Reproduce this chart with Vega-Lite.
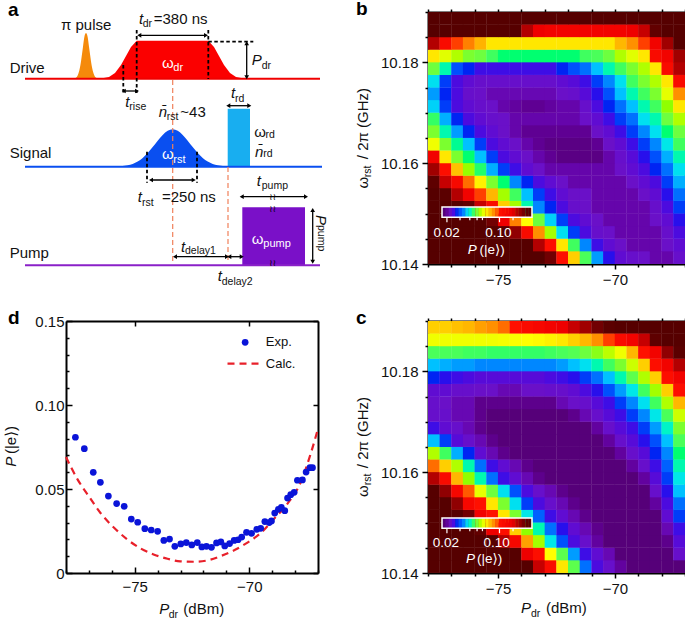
{"$schema":"https://vega.github.io/schema/vega-lite/v6.json","padding":{"left":4,"top":0,"right":0,"bottom":0},"autosize":{"type":"pad"},"background":"white","bounds":"flush","columns":2,"spacing":{"row":57,"column":110},"config":{"view":{"stroke":null},"text":{"font":"Liberation Sans, DejaVu Sans","align":"left","baseline":"alphabetic","fontSize":15,"color":"#111"},"axis":{"title":null,"grid":false,"domainColor":"#000","domainWidth":2,"tickColor":"#000","tickWidth":1.5,"labelFont":"Liberation Sans","labelFontSize":15,"labelColor":"#111","labelOverlap":false,"labelFlush":false}},
"datasets":{"barb":[{"x":-77.33,"y":10.1503,"p":0.0175},{"x":-77.19,"y":10.1503,"p":0.0184},{"x":-77.05,"y":10.1503,"p":0.0193},{"x":-76.9,"y":10.1503,"p":0.023},{"x":-76.76,"y":10.1503,"p":0.0262},{"x":-76.62,"y":10.1503,"p":0.0284},{"x":-76.47,"y":10.1503,"p":0.031},{"x":-76.33,"y":10.1503,"p":0.0352},{"x":-76.19,"y":10.1503,"p":0.0393},{"x":-76.05,"y":10.1503,"p":0.0444},{"x":-75.9,"y":10.1503,"p":0.0515},{"x":-75.76,"y":10.1503,"p":0.0596},{"x":-75.62,"y":10.1503,"p":0.0701},{"x":-75.47,"y":10.1503,"p":0.08},{"x":-75.33,"y":10.1503,"p":0.0893},{"x":-75.19,"y":10.1503,"p":0.1},{"x":-75.05,"y":10.1503,"p":0.114},{"x":-74.9,"y":10.1503,"p":0.128},{"x":-74.76,"y":10.1503,"p":0.14},{"x":-74.62,"y":10.1503,"p":0.153},{"x":-74.48,"y":10.1503,"p":0.166},{"x":-74.33,"y":10.1503,"p":0.177},{"x":-74.19,"y":10.1503,"p":0.198},{"x":-74.05,"y":10.1503,"p":0.216},{"x":-73.91,"y":10.1503,"p":0.237},{"x":-73.76,"y":10.1503,"p":0.257},{"x":-73.62,"y":10.1503,"p":0.274}],
"barc":[{"x":-77.33,"y":10.1499,"p":0.0175},{"x":-77.19,"y":10.1499,"p":0.0184},{"x":-77.05,"y":10.1499,"p":0.0193},{"x":-76.9,"y":10.1499,"p":0.023},{"x":-76.76,"y":10.1499,"p":0.0262},{"x":-76.62,"y":10.1499,"p":0.0284},{"x":-76.47,"y":10.1499,"p":0.031},{"x":-76.33,"y":10.1499,"p":0.0352},{"x":-76.19,"y":10.1499,"p":0.0393},{"x":-76.05,"y":10.1499,"p":0.0444},{"x":-75.9,"y":10.1499,"p":0.0515},{"x":-75.76,"y":10.1499,"p":0.0596},{"x":-75.62,"y":10.1499,"p":0.0701},{"x":-75.47,"y":10.1499,"p":0.08},{"x":-75.33,"y":10.1499,"p":0.0893},{"x":-75.19,"y":10.1499,"p":0.1},{"x":-75.05,"y":10.1499,"p":0.114},{"x":-74.9,"y":10.1499,"p":0.128},{"x":-74.76,"y":10.1499,"p":0.14},{"x":-74.62,"y":10.1499,"p":0.153},{"x":-74.48,"y":10.1499,"p":0.166},{"x":-74.33,"y":10.1499,"p":0.177},{"x":-74.19,"y":10.1499,"p":0.198},{"x":-74.05,"y":10.1499,"p":0.216},{"x":-73.91,"y":10.1499,"p":0.237},{"x":-73.76,"y":10.1499,"p":0.257},{"x":-73.62,"y":10.1499,"p":0.274}],
"b":[
{"x":-77.75,"y":10.1413,"p":0.283},{"x":-77.25,"y":10.1413,"p":0.283},{"x":-76.75,"y":10.1413,"p":0.283},{"x":-76.25,"y":10.1413,"p":0.283},{"x":-75.75,"y":10.1413,"p":0.283},{"x":-75.25,"y":10.1413,"p":0.283},{"x":-74.75,"y":10.1413,"p":0.283},{"x":-74.25,"y":10.1413,"p":0.283},{"x":-73.75,"y":10.1413,"p":0.283},{"x":-73.25,"y":10.1413,"p":0.283},{"x":-72.75,"y":10.1413,"p":0.24},{"x":-72.25,"y":10.1413,"p":0.13},{"x":-71.75,"y":10.1413,"p":0.085},{"x":-71.25,"y":10.1413,"p":0.046},{"x":-70.75,"y":10.1413,"p":0.032},{"x":-70.25,"y":10.1413,"p":0.025},{"x":-69.75,"y":10.1413,"p":0.021},{"x":-69.25,"y":10.1413,"p":0.02},{"x":-68.75,"y":10.1413,"p":0.0195},{"x":-68.25,"y":10.1413,"p":0.0188},{"x":-67.75,"y":10.1413,"p":0.0188},{"x":-67.25,"y":10.1413,"p":0.02},
{"x":-77.75,"y":10.1438,"p":0.283},{"x":-77.25,"y":10.1438,"p":0.283},{"x":-76.75,"y":10.1438,"p":0.283},{"x":-76.25,"y":10.1438,"p":0.283},{"x":-75.75,"y":10.1438,"p":0.283},{"x":-75.25,"y":10.1438,"p":0.283},{"x":-74.75,"y":10.1438,"p":0.283},{"x":-74.25,"y":10.1438,"p":0.283},{"x":-73.75,"y":10.1438,"p":0.283},{"x":-73.25,"y":10.1438,"p":0.2},{"x":-72.75,"y":10.1438,"p":0.13},{"x":-72.25,"y":10.1438,"p":0.08},{"x":-71.75,"y":10.1438,"p":0.045},{"x":-71.25,"y":10.1438,"p":0.031},{"x":-70.75,"y":10.1438,"p":0.024},{"x":-70.25,"y":10.1438,"p":0.021},{"x":-69.75,"y":10.1438,"p":0.0195},{"x":-69.25,"y":10.1438,"p":0.0188},{"x":-68.75,"y":10.1438,"p":0.0188},{"x":-68.25,"y":10.1438,"p":0.0188},{"x":-67.75,"y":10.1438,"p":0.0195},{"x":-67.25,"y":10.1438,"p":0.021},
{"x":-77.75,"y":10.1463,"p":0.283},{"x":-77.25,"y":10.1463,"p":0.283},{"x":-76.75,"y":10.1463,"p":0.283},{"x":-76.25,"y":10.1463,"p":0.283},{"x":-75.75,"y":10.1463,"p":0.283},{"x":-75.25,"y":10.1463,"p":0.283},{"x":-74.75,"y":10.1463,"p":0.283},{"x":-74.25,"y":10.1463,"p":0.22},{"x":-73.75,"y":10.1463,"p":0.14},{"x":-73.25,"y":10.1463,"p":0.1},{"x":-72.75,"y":10.1463,"p":0.058},{"x":-72.25,"y":10.1463,"p":0.036},{"x":-71.75,"y":10.1463,"p":0.027},{"x":-71.25,"y":10.1463,"p":0.023},{"x":-70.75,"y":10.1463,"p":0.02},{"x":-70.25,"y":10.1463,"p":0.0195},{"x":-69.75,"y":10.1463,"p":0.0188},{"x":-69.25,"y":10.1463,"p":0.0188},{"x":-68.75,"y":10.1463,"p":0.0188},{"x":-68.25,"y":10.1463,"p":0.0188},{"x":-67.75,"y":10.1463,"p":0.02},{"x":-67.25,"y":10.1463,"p":0.023},
{"x":-77.75,"y":10.1488,"p":0.283},{"x":-77.25,"y":10.1488,"p":0.283},{"x":-76.75,"y":10.1488,"p":0.283},{"x":-76.25,"y":10.1488,"p":0.283},{"x":-75.75,"y":10.1488,"p":0.283},{"x":-75.25,"y":10.1488,"p":0.24},{"x":-74.75,"y":10.1488,"p":0.17},{"x":-74.25,"y":10.1488,"p":0.105},{"x":-73.75,"y":10.1488,"p":0.075},{"x":-73.25,"y":10.1488,"p":0.05},{"x":-72.75,"y":10.1488,"p":0.035},{"x":-72.25,"y":10.1488,"p":0.027},{"x":-71.75,"y":10.1488,"p":0.023},{"x":-71.25,"y":10.1488,"p":0.021},{"x":-70.75,"y":10.1488,"p":0.0195},{"x":-70.25,"y":10.1488,"p":0.0188},{"x":-69.75,"y":10.1488,"p":0.0188},{"x":-69.25,"y":10.1488,"p":0.0188},{"x":-68.75,"y":10.1488,"p":0.0188},{"x":-68.25,"y":10.1488,"p":0.0195},{"x":-67.75,"y":10.1488,"p":0.021},{"x":-67.25,"y":10.1488,"p":0.025},
{"x":-77.75,"y":10.1513,"p":0.283},{"x":-77.25,"y":10.1513,"p":0.283},{"x":-76.75,"y":10.1513,"p":0.283},{"x":-76.25,"y":10.1513,"p":0.25},{"x":-75.75,"y":10.1513,"p":0.19},{"x":-75.25,"y":10.1513,"p":0.14},{"x":-74.75,"y":10.1513,"p":0.085},{"x":-74.25,"y":10.1513,"p":0.058},{"x":-73.75,"y":10.1513,"p":0.04},{"x":-73.25,"y":10.1513,"p":0.031},{"x":-72.75,"y":10.1513,"p":0.026},{"x":-72.25,"y":10.1513,"p":0.023},{"x":-71.75,"y":10.1513,"p":0.02},{"x":-71.25,"y":10.1513,"p":0.0195},{"x":-70.75,"y":10.1513,"p":0.0188},{"x":-70.25,"y":10.1513,"p":0.0188},{"x":-69.75,"y":10.1513,"p":0.0188},{"x":-69.25,"y":10.1513,"p":0.0188},{"x":-68.75,"y":10.1513,"p":0.0188},{"x":-68.25,"y":10.1513,"p":0.02},{"x":-67.75,"y":10.1513,"p":0.023},{"x":-67.25,"y":10.1513,"p":0.027},
{"x":-77.75,"y":10.1538,"p":0.283},{"x":-77.25,"y":10.1538,"p":0.27},{"x":-76.75,"y":10.1538,"p":0.2},{"x":-76.25,"y":10.1538,"p":0.16},{"x":-75.75,"y":10.1538,"p":0.12},{"x":-75.25,"y":10.1538,"p":0.09},{"x":-74.75,"y":10.1538,"p":0.058},{"x":-74.25,"y":10.1538,"p":0.045},{"x":-73.75,"y":10.1538,"p":0.034},{"x":-73.25,"y":10.1538,"p":0.027},{"x":-72.75,"y":10.1538,"p":0.024},{"x":-72.25,"y":10.1538,"p":0.021},{"x":-71.75,"y":10.1538,"p":0.0195},{"x":-71.25,"y":10.1538,"p":0.0195},{"x":-70.75,"y":10.1538,"p":0.0188},{"x":-70.25,"y":10.1538,"p":0.0188},{"x":-69.75,"y":10.1538,"p":0.0188},{"x":-69.25,"y":10.1538,"p":0.0188},{"x":-68.75,"y":10.1538,"p":0.0195},{"x":-68.25,"y":10.1538,"p":0.021},{"x":-67.75,"y":10.1538,"p":0.025},{"x":-67.25,"y":10.1538,"p":0.03},
{"x":-77.75,"y":10.1563,"p":0.26},{"x":-77.25,"y":10.1563,"p":0.19},{"x":-76.75,"y":10.1563,"p":0.145},{"x":-76.25,"y":10.1563,"p":0.11},{"x":-75.75,"y":10.1563,"p":0.078},{"x":-75.25,"y":10.1563,"p":0.052},{"x":-74.75,"y":10.1563,"p":0.042},{"x":-74.25,"y":10.1563,"p":0.031},{"x":-73.75,"y":10.1563,"p":0.026},{"x":-73.25,"y":10.1563,"p":0.023},{"x":-72.75,"y":10.1563,"p":0.021},{"x":-72.25,"y":10.1563,"p":0.0195},{"x":-71.75,"y":10.1563,"p":0.0188},{"x":-71.25,"y":10.1563,"p":0.0188},{"x":-70.75,"y":10.1563,"p":0.0188},{"x":-70.25,"y":10.1563,"p":0.0188},{"x":-69.75,"y":10.1563,"p":0.0188},{"x":-69.25,"y":10.1563,"p":0.0195},{"x":-68.75,"y":10.1563,"p":0.021},{"x":-68.25,"y":10.1563,"p":0.023},{"x":-67.75,"y":10.1563,"p":0.027},{"x":-67.25,"y":10.1563,"p":0.033},
{"x":-77.75,"y":10.1588,"p":0.21},{"x":-77.25,"y":10.1588,"p":0.13},{"x":-76.75,"y":10.1588,"p":0.088},{"x":-76.25,"y":10.1588,"p":0.056},{"x":-75.75,"y":10.1588,"p":0.043},{"x":-75.25,"y":10.1588,"p":0.033},{"x":-74.75,"y":10.1588,"p":0.027},{"x":-74.25,"y":10.1588,"p":0.024},{"x":-73.75,"y":10.1588,"p":0.021},{"x":-73.25,"y":10.1588,"p":0.0195},{"x":-72.75,"y":10.1588,"p":0.0188},{"x":-72.25,"y":10.1588,"p":0.0188},{"x":-71.75,"y":10.1588,"p":0.0188},{"x":-71.25,"y":10.1588,"p":0.0188},{"x":-70.75,"y":10.1588,"p":0.0188},{"x":-70.25,"y":10.1588,"p":0.0188},{"x":-69.75,"y":10.1588,"p":0.0195},{"x":-69.25,"y":10.1588,"p":0.021},{"x":-68.75,"y":10.1588,"p":0.023},{"x":-68.25,"y":10.1588,"p":0.026},{"x":-67.75,"y":10.1588,"p":0.03},{"x":-67.25,"y":10.1588,"p":0.036},
{"x":-77.75,"y":10.1613,"p":0.16},{"x":-77.25,"y":10.1613,"p":0.08},{"x":-76.75,"y":10.1613,"p":0.052},{"x":-76.25,"y":10.1613,"p":0.042},{"x":-75.75,"y":10.1613,"p":0.034},{"x":-75.25,"y":10.1613,"p":0.027},{"x":-74.75,"y":10.1613,"p":0.023},{"x":-74.25,"y":10.1613,"p":0.021},{"x":-73.75,"y":10.1613,"p":0.0195},{"x":-73.25,"y":10.1613,"p":0.0188},{"x":-72.75,"y":10.1613,"p":0.0182},{"x":-72.25,"y":10.1613,"p":0.0178},{"x":-71.75,"y":10.1613,"p":0.0178},{"x":-71.25,"y":10.1613,"p":0.0178},{"x":-70.75,"y":10.1613,"p":0.0178},{"x":-70.25,"y":10.1613,"p":0.0188},{"x":-69.75,"y":10.1613,"p":0.02},{"x":-69.25,"y":10.1613,"p":0.022},{"x":-68.75,"y":10.1613,"p":0.025},{"x":-68.25,"y":10.1613,"p":0.028},{"x":-67.75,"y":10.1613,"p":0.033},{"x":-67.25,"y":10.1613,"p":0.04},
{"x":-77.75,"y":10.1638,"p":0.072},{"x":-77.25,"y":10.1638,"p":0.052},{"x":-76.75,"y":10.1638,"p":0.041},{"x":-76.25,"y":10.1638,"p":0.034},{"x":-75.75,"y":10.1638,"p":0.027},{"x":-75.25,"y":10.1638,"p":0.023},{"x":-74.75,"y":10.1638,"p":0.021},{"x":-74.25,"y":10.1638,"p":0.0195},{"x":-73.75,"y":10.1638,"p":0.0188},{"x":-73.25,"y":10.1638,"p":0.0182},{"x":-72.75,"y":10.1638,"p":0.0178},{"x":-72.25,"y":10.1638,"p":0.0178},{"x":-71.75,"y":10.1638,"p":0.0178},{"x":-71.25,"y":10.1638,"p":0.0178},{"x":-70.75,"y":10.1638,"p":0.0182},{"x":-70.25,"y":10.1638,"p":0.0195},{"x":-69.75,"y":10.1638,"p":0.021},{"x":-69.25,"y":10.1638,"p":0.024},{"x":-68.75,"y":10.1638,"p":0.027},{"x":-68.25,"y":10.1638,"p":0.031},{"x":-67.75,"y":10.1638,"p":0.037},{"x":-67.25,"y":10.1638,"p":0.045},
{"x":-77.75,"y":10.1663,"p":0.052},{"x":-77.25,"y":10.1663,"p":0.04},{"x":-76.75,"y":10.1663,"p":0.032},{"x":-76.25,"y":10.1663,"p":0.026},{"x":-75.75,"y":10.1663,"p":0.023},{"x":-75.25,"y":10.1663,"p":0.021},{"x":-74.75,"y":10.1663,"p":0.0195},{"x":-74.25,"y":10.1663,"p":0.0188},{"x":-73.75,"y":10.1663,"p":0.0182},{"x":-73.25,"y":10.1663,"p":0.0182},{"x":-72.75,"y":10.1663,"p":0.0182},{"x":-72.25,"y":10.1663,"p":0.0182},{"x":-71.75,"y":10.1663,"p":0.0182},{"x":-71.25,"y":10.1663,"p":0.0182},{"x":-70.75,"y":10.1663,"p":0.0195},{"x":-70.25,"y":10.1663,"p":0.021},{"x":-69.75,"y":10.1663,"p":0.024},{"x":-69.25,"y":10.1663,"p":0.027},{"x":-68.75,"y":10.1663,"p":0.031},{"x":-68.25,"y":10.1663,"p":0.036},{"x":-67.75,"y":10.1663,"p":0.042},{"x":-67.25,"y":10.1663,"p":0.05},
{"x":-77.75,"y":10.1688,"p":0.044},{"x":-77.25,"y":10.1688,"p":0.033},{"x":-76.75,"y":10.1688,"p":0.026},{"x":-76.25,"y":10.1688,"p":0.023},{"x":-75.75,"y":10.1688,"p":0.021},{"x":-75.25,"y":10.1688,"p":0.02},{"x":-74.75,"y":10.1688,"p":0.0195},{"x":-74.25,"y":10.1688,"p":0.0188},{"x":-73.75,"y":10.1688,"p":0.0188},{"x":-73.25,"y":10.1688,"p":0.0188},{"x":-72.75,"y":10.1688,"p":0.0188},{"x":-72.25,"y":10.1688,"p":0.0188},{"x":-71.75,"y":10.1688,"p":0.0188},{"x":-71.25,"y":10.1688,"p":0.0195},{"x":-70.75,"y":10.1688,"p":0.021},{"x":-70.25,"y":10.1688,"p":0.024},{"x":-69.75,"y":10.1688,"p":0.027},{"x":-69.25,"y":10.1688,"p":0.03},{"x":-68.75,"y":10.1688,"p":0.036},{"x":-68.25,"y":10.1688,"p":0.04},{"x":-67.75,"y":10.1688,"p":0.05},{"x":-67.25,"y":10.1688,"p":0.06},
{"x":-77.75,"y":10.1713,"p":0.035},{"x":-77.25,"y":10.1713,"p":0.027},{"x":-76.75,"y":10.1713,"p":0.023},{"x":-76.25,"y":10.1713,"p":0.021},{"x":-75.75,"y":10.1713,"p":0.02},{"x":-75.25,"y":10.1713,"p":0.0195},{"x":-74.75,"y":10.1713,"p":0.0188},{"x":-74.25,"y":10.1713,"p":0.0185},{"x":-73.75,"y":10.1713,"p":0.0182},{"x":-73.25,"y":10.1713,"p":0.0182},{"x":-72.75,"y":10.1713,"p":0.0185},{"x":-72.25,"y":10.1713,"p":0.0188},{"x":-71.75,"y":10.1713,"p":0.0188},{"x":-71.25,"y":10.1713,"p":0.02},{"x":-70.75,"y":10.1713,"p":0.023},{"x":-70.25,"y":10.1713,"p":0.026},{"x":-69.75,"y":10.1713,"p":0.03},{"x":-69.25,"y":10.1713,"p":0.034},{"x":-68.75,"y":10.1713,"p":0.04},{"x":-68.25,"y":10.1713,"p":0.045},{"x":-67.75,"y":10.1713,"p":0.055},{"x":-67.25,"y":10.1713,"p":0.08},
{"x":-77.75,"y":10.1738,"p":0.032},{"x":-77.25,"y":10.1738,"p":0.026},{"x":-76.75,"y":10.1738,"p":0.023},{"x":-76.25,"y":10.1738,"p":0.02},{"x":-75.75,"y":10.1738,"p":0.0195},{"x":-75.25,"y":10.1738,"p":0.019},{"x":-74.75,"y":10.1738,"p":0.019},{"x":-74.25,"y":10.1738,"p":0.019},{"x":-73.75,"y":10.1738,"p":0.019},{"x":-73.25,"y":10.1738,"p":0.019},{"x":-72.75,"y":10.1738,"p":0.019},{"x":-72.25,"y":10.1738,"p":0.0195},{"x":-71.75,"y":10.1738,"p":0.02},{"x":-71.25,"y":10.1738,"p":0.022},{"x":-70.75,"y":10.1738,"p":0.025},{"x":-70.25,"y":10.1738,"p":0.028},{"x":-69.75,"y":10.1738,"p":0.034},{"x":-69.25,"y":10.1738,"p":0.04},{"x":-68.75,"y":10.1738,"p":0.045},{"x":-68.25,"y":10.1738,"p":0.052},{"x":-67.75,"y":10.1738,"p":0.07},{"x":-67.25,"y":10.1738,"p":0.1},
{"x":-77.75,"y":10.1763,"p":0.036},{"x":-77.25,"y":10.1763,"p":0.027},{"x":-76.75,"y":10.1763,"p":0.023},{"x":-76.25,"y":10.1763,"p":0.021},{"x":-75.75,"y":10.1763,"p":0.02},{"x":-75.25,"y":10.1763,"p":0.02},{"x":-74.75,"y":10.1763,"p":0.02},{"x":-74.25,"y":10.1763,"p":0.02},{"x":-73.75,"y":10.1763,"p":0.02},{"x":-73.25,"y":10.1763,"p":0.02},{"x":-72.75,"y":10.1763,"p":0.02},{"x":-72.25,"y":10.1763,"p":0.021},{"x":-71.75,"y":10.1763,"p":0.022},{"x":-71.25,"y":10.1763,"p":0.024},{"x":-70.75,"y":10.1763,"p":0.027},{"x":-70.25,"y":10.1763,"p":0.031},{"x":-69.75,"y":10.1763,"p":0.036},{"x":-69.25,"y":10.1763,"p":0.045},{"x":-68.75,"y":10.1763,"p":0.052},{"x":-68.25,"y":10.1763,"p":0.06},{"x":-67.75,"y":10.1763,"p":0.08},{"x":-67.25,"y":10.1763,"p":0.14},
{"x":-77.75,"y":10.1788,"p":0.05},{"x":-77.25,"y":10.1788,"p":0.04},{"x":-76.75,"y":10.1788,"p":0.028},{"x":-76.25,"y":10.1788,"p":0.026},{"x":-75.75,"y":10.1788,"p":0.024},{"x":-75.25,"y":10.1788,"p":0.024},{"x":-74.75,"y":10.1788,"p":0.024},{"x":-74.25,"y":10.1788,"p":0.024},{"x":-73.75,"y":10.1788,"p":0.024},{"x":-73.25,"y":10.1788,"p":0.024},{"x":-72.75,"y":10.1788,"p":0.024},{"x":-72.25,"y":10.1788,"p":0.026},{"x":-71.75,"y":10.1788,"p":0.028},{"x":-71.25,"y":10.1788,"p":0.03},{"x":-70.75,"y":10.1788,"p":0.034},{"x":-70.25,"y":10.1788,"p":0.04},{"x":-69.75,"y":10.1788,"p":0.045},{"x":-69.25,"y":10.1788,"p":0.052},{"x":-68.75,"y":10.1788,"p":0.06},{"x":-68.25,"y":10.1788,"p":0.08},{"x":-67.75,"y":10.1788,"p":0.14},{"x":-67.25,"y":10.1788,"p":0.2},
{"x":-77.75,"y":10.1813,"p":0.08},{"x":-77.25,"y":10.1813,"p":0.069},{"x":-76.75,"y":10.1813,"p":0.06},{"x":-76.25,"y":10.1813,"p":0.052},{"x":-75.75,"y":10.1813,"p":0.05},{"x":-75.25,"y":10.1813,"p":0.045},{"x":-74.75,"y":10.1813,"p":0.042},{"x":-74.25,"y":10.1813,"p":0.042},{"x":-73.75,"y":10.1813,"p":0.042},{"x":-73.25,"y":10.1813,"p":0.042},{"x":-72.75,"y":10.1813,"p":0.042},{"x":-72.25,"y":10.1813,"p":0.042},{"x":-71.75,"y":10.1813,"p":0.042},{"x":-71.25,"y":10.1813,"p":0.045},{"x":-70.75,"y":10.1813,"p":0.046},{"x":-70.25,"y":10.1813,"p":0.05},{"x":-69.75,"y":10.1813,"p":0.06},{"x":-69.25,"y":10.1813,"p":0.069},{"x":-68.75,"y":10.1813,"p":0.08},{"x":-68.25,"y":10.1813,"p":0.14},{"x":-67.75,"y":10.1813,"p":0.16},{"x":-67.25,"y":10.1813,"p":0.21},
{"x":-77.75,"y":10.1838,"p":0.2},{"x":-77.25,"y":10.1838,"p":0.14},{"x":-76.75,"y":10.1838,"p":0.12},{"x":-76.25,"y":10.1838,"p":0.105},{"x":-75.75,"y":10.1838,"p":0.091},{"x":-75.25,"y":10.1838,"p":0.08},{"x":-74.75,"y":10.1838,"p":0.08},{"x":-74.25,"y":10.1838,"p":0.08},{"x":-73.75,"y":10.1838,"p":0.08},{"x":-73.25,"y":10.1838,"p":0.08},{"x":-72.75,"y":10.1838,"p":0.08},{"x":-72.25,"y":10.1838,"p":0.08},{"x":-71.75,"y":10.1838,"p":0.08},{"x":-71.25,"y":10.1838,"p":0.08},{"x":-70.75,"y":10.1838,"p":0.08},{"x":-70.25,"y":10.1838,"p":0.08},{"x":-69.75,"y":10.1838,"p":0.09},{"x":-69.25,"y":10.1838,"p":0.1},{"x":-68.75,"y":10.1838,"p":0.12},{"x":-68.25,"y":10.1838,"p":0.16},{"x":-67.75,"y":10.1838,"p":0.21},{"x":-67.25,"y":10.1838,"p":0.283},
{"x":-77.75,"y":10.1863,"p":0.283},{"x":-77.25,"y":10.1863,"p":0.283},{"x":-76.75,"y":10.1863,"p":0.283},{"x":-76.25,"y":10.1863,"p":0.283},{"x":-75.75,"y":10.1863,"p":0.283},{"x":-75.25,"y":10.1863,"p":0.283},{"x":-74.75,"y":10.1863,"p":0.283},{"x":-74.25,"y":10.1863,"p":0.283},{"x":-73.75,"y":10.1863,"p":0.2},{"x":-73.25,"y":10.1863,"p":0.17},{"x":-72.75,"y":10.1863,"p":0.16},{"x":-72.25,"y":10.1863,"p":0.16},{"x":-71.75,"y":10.1863,"p":0.16},{"x":-71.25,"y":10.1863,"p":0.16},{"x":-70.75,"y":10.1863,"p":0.16},{"x":-70.25,"y":10.1863,"p":0.16},{"x":-69.75,"y":10.1863,"p":0.16},{"x":-69.25,"y":10.1863,"p":0.17},{"x":-68.75,"y":10.1863,"p":0.19},{"x":-68.25,"y":10.1863,"p":0.25},{"x":-67.75,"y":10.1863,"p":0.283},{"x":-67.25,"y":10.1863,"p":0.283},
{"x":-77.75,"y":10.1888,"p":0.283},{"x":-77.25,"y":10.1888,"p":0.283},{"x":-76.75,"y":10.1888,"p":0.283},{"x":-76.25,"y":10.1888,"p":0.283},{"x":-75.75,"y":10.1888,"p":0.283},{"x":-75.25,"y":10.1888,"p":0.283},{"x":-74.75,"y":10.1888,"p":0.283},{"x":-74.25,"y":10.1888,"p":0.283},{"x":-73.75,"y":10.1888,"p":0.283},{"x":-73.25,"y":10.1888,"p":0.283},{"x":-72.75,"y":10.1888,"p":0.283},{"x":-72.25,"y":10.1888,"p":0.283},{"x":-71.75,"y":10.1888,"p":0.283},{"x":-71.25,"y":10.1888,"p":0.283},{"x":-70.75,"y":10.1888,"p":0.283},{"x":-70.25,"y":10.1888,"p":0.283},{"x":-69.75,"y":10.1888,"p":0.283},{"x":-69.25,"y":10.1888,"p":0.283},{"x":-68.75,"y":10.1888,"p":0.283},{"x":-68.25,"y":10.1888,"p":0.283},{"x":-67.75,"y":10.1888,"p":0.283},{"x":-67.25,"y":10.1888,"p":0.283}],
"c":[
{"x":-77.75,"y":10.1413,"p":0.283},{"x":-77.25,"y":10.1413,"p":0.283},{"x":-76.75,"y":10.1413,"p":0.283},{"x":-76.25,"y":10.1413,"p":0.283},{"x":-75.75,"y":10.1413,"p":0.283},{"x":-75.25,"y":10.1413,"p":0.283},{"x":-74.75,"y":10.1413,"p":0.283},{"x":-74.25,"y":10.1413,"p":0.283},{"x":-73.75,"y":10.1413,"p":0.283},{"x":-73.25,"y":10.1413,"p":0.19},{"x":-72.75,"y":10.1413,"p":0.14},{"x":-72.25,"y":10.1413,"p":0.08},{"x":-71.75,"y":10.1413,"p":0.048},{"x":-71.25,"y":10.1413,"p":0.03},{"x":-70.75,"y":10.1413,"p":0.023},{"x":-70.25,"y":10.1413,"p":0.02},{"x":-69.75,"y":10.1413,"p":0.0185},{"x":-69.25,"y":10.1413,"p":0.0175},{"x":-68.75,"y":10.1413,"p":0.0175},{"x":-68.25,"y":10.1413,"p":0.0175},{"x":-67.75,"y":10.1413,"p":0.0175},{"x":-67.25,"y":10.1413,"p":0.0175},
{"x":-77.75,"y":10.1438,"p":0.283},{"x":-77.25,"y":10.1438,"p":0.283},{"x":-76.75,"y":10.1438,"p":0.283},{"x":-76.25,"y":10.1438,"p":0.283},{"x":-75.75,"y":10.1438,"p":0.283},{"x":-75.25,"y":10.1438,"p":0.283},{"x":-74.75,"y":10.1438,"p":0.283},{"x":-74.25,"y":10.1438,"p":0.283},{"x":-73.75,"y":10.1438,"p":0.17},{"x":-73.25,"y":10.1438,"p":0.13},{"x":-72.75,"y":10.1438,"p":0.075},{"x":-72.25,"y":10.1438,"p":0.048},{"x":-71.75,"y":10.1438,"p":0.032},{"x":-71.25,"y":10.1438,"p":0.024},{"x":-70.75,"y":10.1438,"p":0.021},{"x":-70.25,"y":10.1438,"p":0.019},{"x":-69.75,"y":10.1438,"p":0.0175},{"x":-69.25,"y":10.1438,"p":0.0175},{"x":-68.75,"y":10.1438,"p":0.0175},{"x":-68.25,"y":10.1438,"p":0.0175},{"x":-67.75,"y":10.1438,"p":0.0175},{"x":-67.25,"y":10.1438,"p":0.02},
{"x":-77.75,"y":10.1463,"p":0.283},{"x":-77.25,"y":10.1463,"p":0.283},{"x":-76.75,"y":10.1463,"p":0.283},{"x":-76.25,"y":10.1463,"p":0.283},{"x":-75.75,"y":10.1463,"p":0.283},{"x":-75.25,"y":10.1463,"p":0.283},{"x":-74.75,"y":10.1463,"p":0.2},{"x":-74.25,"y":10.1463,"p":0.15},{"x":-73.75,"y":10.1463,"p":0.095},{"x":-73.25,"y":10.1463,"p":0.058},{"x":-72.75,"y":10.1463,"p":0.037},{"x":-72.25,"y":10.1463,"p":0.028},{"x":-71.75,"y":10.1463,"p":0.023},{"x":-71.25,"y":10.1463,"p":0.02},{"x":-70.75,"y":10.1463,"p":0.0185},{"x":-70.25,"y":10.1463,"p":0.0175},{"x":-69.75,"y":10.1463,"p":0.0175},{"x":-69.25,"y":10.1463,"p":0.0175},{"x":-68.75,"y":10.1463,"p":0.0175},{"x":-68.25,"y":10.1463,"p":0.0175},{"x":-67.75,"y":10.1463,"p":0.018},{"x":-67.25,"y":10.1463,"p":0.022},
{"x":-77.75,"y":10.1488,"p":0.283},{"x":-77.25,"y":10.1488,"p":0.283},{"x":-76.75,"y":10.1488,"p":0.283},{"x":-76.25,"y":10.1488,"p":0.283},{"x":-75.75,"y":10.1488,"p":0.25},{"x":-75.25,"y":10.1488,"p":0.17},{"x":-74.75,"y":10.1488,"p":0.13},{"x":-74.25,"y":10.1488,"p":0.085},{"x":-73.75,"y":10.1488,"p":0.055},{"x":-73.25,"y":10.1488,"p":0.04},{"x":-72.75,"y":10.1488,"p":0.03},{"x":-72.25,"y":10.1488,"p":0.025},{"x":-71.75,"y":10.1488,"p":0.021},{"x":-71.25,"y":10.1488,"p":0.019},{"x":-70.75,"y":10.1488,"p":0.018},{"x":-70.25,"y":10.1488,"p":0.0175},{"x":-69.75,"y":10.1488,"p":0.0175},{"x":-69.25,"y":10.1488,"p":0.0175},{"x":-68.75,"y":10.1488,"p":0.0175},{"x":-68.25,"y":10.1488,"p":0.0175},{"x":-67.75,"y":10.1488,"p":0.019},{"x":-67.25,"y":10.1488,"p":0.024},
{"x":-77.75,"y":10.1513,"p":0.283},{"x":-77.25,"y":10.1513,"p":0.283},{"x":-76.75,"y":10.1513,"p":0.283},{"x":-76.25,"y":10.1513,"p":0.24},{"x":-75.75,"y":10.1513,"p":0.16},{"x":-75.25,"y":10.1513,"p":0.125},{"x":-74.75,"y":10.1513,"p":0.08},{"x":-74.25,"y":10.1513,"p":0.052},{"x":-73.75,"y":10.1513,"p":0.037},{"x":-73.25,"y":10.1513,"p":0.029},{"x":-72.75,"y":10.1513,"p":0.024},{"x":-72.25,"y":10.1513,"p":0.021},{"x":-71.75,"y":10.1513,"p":0.019},{"x":-71.25,"y":10.1513,"p":0.018},{"x":-70.75,"y":10.1513,"p":0.0175},{"x":-70.25,"y":10.1513,"p":0.0175},{"x":-69.75,"y":10.1513,"p":0.0175},{"x":-69.25,"y":10.1513,"p":0.0175},{"x":-68.75,"y":10.1513,"p":0.0175},{"x":-68.25,"y":10.1513,"p":0.0175},{"x":-67.75,"y":10.1513,"p":0.021},{"x":-67.25,"y":10.1513,"p":0.027},
{"x":-77.75,"y":10.1538,"p":0.283},{"x":-77.25,"y":10.1538,"p":0.283},{"x":-76.75,"y":10.1538,"p":0.22},{"x":-76.25,"y":10.1538,"p":0.15},{"x":-75.75,"y":10.1538,"p":0.125},{"x":-75.25,"y":10.1538,"p":0.08},{"x":-74.75,"y":10.1538,"p":0.052},{"x":-74.25,"y":10.1538,"p":0.036},{"x":-73.75,"y":10.1538,"p":0.027},{"x":-73.25,"y":10.1538,"p":0.023},{"x":-72.75,"y":10.1538,"p":0.02},{"x":-72.25,"y":10.1538,"p":0.019},{"x":-71.75,"y":10.1538,"p":0.018},{"x":-71.25,"y":10.1538,"p":0.0175},{"x":-70.75,"y":10.1538,"p":0.0175},{"x":-70.25,"y":10.1538,"p":0.0175},{"x":-69.75,"y":10.1538,"p":0.0175},{"x":-69.25,"y":10.1538,"p":0.0175},{"x":-68.75,"y":10.1538,"p":0.0175},{"x":-68.25,"y":10.1538,"p":0.0185},{"x":-67.75,"y":10.1538,"p":0.023},{"x":-67.25,"y":10.1538,"p":0.03},
{"x":-77.75,"y":10.1563,"p":0.283},{"x":-77.25,"y":10.1563,"p":0.22},{"x":-76.75,"y":10.1563,"p":0.15},{"x":-76.25,"y":10.1563,"p":0.115},{"x":-75.75,"y":10.1563,"p":0.07},{"x":-75.25,"y":10.1563,"p":0.05},{"x":-74.75,"y":10.1563,"p":0.036},{"x":-74.25,"y":10.1563,"p":0.028},{"x":-73.75,"y":10.1563,"p":0.023},{"x":-73.25,"y":10.1563,"p":0.02},{"x":-72.75,"y":10.1563,"p":0.019},{"x":-72.25,"y":10.1563,"p":0.018},{"x":-71.75,"y":10.1563,"p":0.0175},{"x":-71.25,"y":10.1563,"p":0.0175},{"x":-70.75,"y":10.1563,"p":0.0175},{"x":-70.25,"y":10.1563,"p":0.0175},{"x":-69.75,"y":10.1563,"p":0.0175},{"x":-69.25,"y":10.1563,"p":0.0175},{"x":-68.75,"y":10.1563,"p":0.0175},{"x":-68.25,"y":10.1563,"p":0.02},{"x":-67.75,"y":10.1563,"p":0.025},{"x":-67.25,"y":10.1563,"p":0.034},
{"x":-77.75,"y":10.1588,"p":0.2},{"x":-77.25,"y":10.1588,"p":0.14},{"x":-76.75,"y":10.1588,"p":0.09},{"x":-76.25,"y":10.1588,"p":0.055},{"x":-75.75,"y":10.1588,"p":0.04},{"x":-75.25,"y":10.1588,"p":0.03},{"x":-74.75,"y":10.1588,"p":0.024},{"x":-74.25,"y":10.1588,"p":0.021},{"x":-73.75,"y":10.1588,"p":0.019},{"x":-73.25,"y":10.1588,"p":0.018},{"x":-72.75,"y":10.1588,"p":0.0175},{"x":-72.25,"y":10.1588,"p":0.0175},{"x":-71.75,"y":10.1588,"p":0.0175},{"x":-71.25,"y":10.1588,"p":0.0175},{"x":-70.75,"y":10.1588,"p":0.0175},{"x":-70.25,"y":10.1588,"p":0.0175},{"x":-69.75,"y":10.1588,"p":0.0175},{"x":-69.25,"y":10.1588,"p":0.0175},{"x":-68.75,"y":10.1588,"p":0.0185},{"x":-68.25,"y":10.1588,"p":0.022},{"x":-67.75,"y":10.1588,"p":0.027},{"x":-67.25,"y":10.1588,"p":0.037},
{"x":-77.75,"y":10.1613,"p":0.11},{"x":-77.25,"y":10.1613,"p":0.085},{"x":-76.75,"y":10.1613,"p":0.06},{"x":-76.25,"y":10.1613,"p":0.04},{"x":-75.75,"y":10.1613,"p":0.03},{"x":-75.25,"y":10.1613,"p":0.024},{"x":-74.75,"y":10.1613,"p":0.021},{"x":-74.25,"y":10.1613,"p":0.019},{"x":-73.75,"y":10.1613,"p":0.018},{"x":-73.25,"y":10.1613,"p":0.0175},{"x":-72.75,"y":10.1613,"p":0.0175},{"x":-72.25,"y":10.1613,"p":0.0175},{"x":-71.75,"y":10.1613,"p":0.0175},{"x":-71.25,"y":10.1613,"p":0.0175},{"x":-70.75,"y":10.1613,"p":0.0175},{"x":-70.25,"y":10.1613,"p":0.0175},{"x":-69.75,"y":10.1613,"p":0.0175},{"x":-69.25,"y":10.1613,"p":0.0185},{"x":-68.75,"y":10.1613,"p":0.02},{"x":-68.25,"y":10.1613,"p":0.024},{"x":-67.75,"y":10.1613,"p":0.029},{"x":-67.25,"y":10.1613,"p":0.04},
{"x":-77.75,"y":10.1638,"p":0.06},{"x":-77.25,"y":10.1638,"p":0.045},{"x":-76.75,"y":10.1638,"p":0.033},{"x":-76.25,"y":10.1638,"p":0.026},{"x":-75.75,"y":10.1638,"p":0.021},{"x":-75.25,"y":10.1638,"p":0.019},{"x":-74.75,"y":10.1638,"p":0.018},{"x":-74.25,"y":10.1638,"p":0.0175},{"x":-73.75,"y":10.1638,"p":0.0175},{"x":-73.25,"y":10.1638,"p":0.0175},{"x":-72.75,"y":10.1638,"p":0.0175},{"x":-72.25,"y":10.1638,"p":0.0175},{"x":-71.75,"y":10.1638,"p":0.0175},{"x":-71.25,"y":10.1638,"p":0.0175},{"x":-70.75,"y":10.1638,"p":0.0175},{"x":-70.25,"y":10.1638,"p":0.0175},{"x":-69.75,"y":10.1638,"p":0.0185},{"x":-69.25,"y":10.1638,"p":0.02},{"x":-68.75,"y":10.1638,"p":0.022},{"x":-68.25,"y":10.1638,"p":0.026},{"x":-67.75,"y":10.1638,"p":0.031},{"x":-67.25,"y":10.1638,"p":0.042},
{"x":-77.75,"y":10.1663,"p":0.034},{"x":-77.25,"y":10.1663,"p":0.027},{"x":-76.75,"y":10.1663,"p":0.022},{"x":-76.25,"y":10.1663,"p":0.02},{"x":-75.75,"y":10.1663,"p":0.019},{"x":-75.25,"y":10.1663,"p":0.018},{"x":-74.75,"y":10.1663,"p":0.0175},{"x":-74.25,"y":10.1663,"p":0.0175},{"x":-73.75,"y":10.1663,"p":0.0175},{"x":-73.25,"y":10.1663,"p":0.0175},{"x":-72.75,"y":10.1663,"p":0.0175},{"x":-72.25,"y":10.1663,"p":0.0175},{"x":-71.75,"y":10.1663,"p":0.0175},{"x":-71.25,"y":10.1663,"p":0.0175},{"x":-70.75,"y":10.1663,"p":0.0175},{"x":-70.25,"y":10.1663,"p":0.0185},{"x":-69.75,"y":10.1663,"p":0.02},{"x":-69.25,"y":10.1663,"p":0.022},{"x":-68.75,"y":10.1663,"p":0.025},{"x":-68.25,"y":10.1663,"p":0.028},{"x":-67.75,"y":10.1663,"p":0.034},{"x":-67.25,"y":10.1663,"p":0.046},
{"x":-77.75,"y":10.1688,"p":0.024},{"x":-77.25,"y":10.1688,"p":0.021},{"x":-76.75,"y":10.1688,"p":0.02},{"x":-76.25,"y":10.1688,"p":0.019},{"x":-75.75,"y":10.1688,"p":0.018},{"x":-75.25,"y":10.1688,"p":0.0175},{"x":-74.75,"y":10.1688,"p":0.0175},{"x":-74.25,"y":10.1688,"p":0.0175},{"x":-73.75,"y":10.1688,"p":0.0175},{"x":-73.25,"y":10.1688,"p":0.0175},{"x":-72.75,"y":10.1688,"p":0.0175},{"x":-72.25,"y":10.1688,"p":0.0175},{"x":-71.75,"y":10.1688,"p":0.0175},{"x":-71.25,"y":10.1688,"p":0.0175},{"x":-70.75,"y":10.1688,"p":0.0185},{"x":-70.25,"y":10.1688,"p":0.02},{"x":-69.75,"y":10.1688,"p":0.022},{"x":-69.25,"y":10.1688,"p":0.024},{"x":-68.75,"y":10.1688,"p":0.027},{"x":-68.25,"y":10.1688,"p":0.032},{"x":-67.75,"y":10.1688,"p":0.039},{"x":-67.25,"y":10.1688,"p":0.052},
{"x":-77.75,"y":10.1713,"p":0.02},{"x":-77.25,"y":10.1713,"p":0.02},{"x":-76.75,"y":10.1713,"p":0.019},{"x":-76.25,"y":10.1713,"p":0.019},{"x":-75.75,"y":10.1713,"p":0.018},{"x":-75.25,"y":10.1713,"p":0.0175},{"x":-74.75,"y":10.1713,"p":0.0175},{"x":-74.25,"y":10.1713,"p":0.0175},{"x":-73.75,"y":10.1713,"p":0.0175},{"x":-73.25,"y":10.1713,"p":0.0175},{"x":-72.75,"y":10.1713,"p":0.0175},{"x":-72.25,"y":10.1713,"p":0.0175},{"x":-71.75,"y":10.1713,"p":0.018},{"x":-71.25,"y":10.1713,"p":0.019},{"x":-70.75,"y":10.1713,"p":0.02},{"x":-70.25,"y":10.1713,"p":0.022},{"x":-69.75,"y":10.1713,"p":0.024},{"x":-69.25,"y":10.1713,"p":0.027},{"x":-68.75,"y":10.1713,"p":0.031},{"x":-68.25,"y":10.1713,"p":0.037},{"x":-67.75,"y":10.1713,"p":0.046},{"x":-67.25,"y":10.1713,"p":0.065},
{"x":-77.75,"y":10.1738,"p":0.02},{"x":-77.25,"y":10.1738,"p":0.0195},{"x":-76.75,"y":10.1738,"p":0.019},{"x":-76.25,"y":10.1738,"p":0.019},{"x":-75.75,"y":10.1738,"p":0.018},{"x":-75.25,"y":10.1738,"p":0.018},{"x":-74.75,"y":10.1738,"p":0.018},{"x":-74.25,"y":10.1738,"p":0.018},{"x":-73.75,"y":10.1738,"p":0.018},{"x":-73.25,"y":10.1738,"p":0.018},{"x":-72.75,"y":10.1738,"p":0.018},{"x":-72.25,"y":10.1738,"p":0.019},{"x":-71.75,"y":10.1738,"p":0.0195},{"x":-71.25,"y":10.1738,"p":0.02},{"x":-70.75,"y":10.1738,"p":0.022},{"x":-70.25,"y":10.1738,"p":0.024},{"x":-69.75,"y":10.1738,"p":0.027},{"x":-69.25,"y":10.1738,"p":0.031},{"x":-68.75,"y":10.1738,"p":0.036},{"x":-68.25,"y":10.1738,"p":0.045},{"x":-67.75,"y":10.1738,"p":0.06},{"x":-67.25,"y":10.1738,"p":0.09},
{"x":-77.75,"y":10.1763,"p":0.021},{"x":-77.25,"y":10.1763,"p":0.021},{"x":-76.75,"y":10.1763,"p":0.02},{"x":-76.25,"y":10.1763,"p":0.02},{"x":-75.75,"y":10.1763,"p":0.0195},{"x":-75.25,"y":10.1763,"p":0.0195},{"x":-74.75,"y":10.1763,"p":0.019},{"x":-74.25,"y":10.1763,"p":0.019},{"x":-73.75,"y":10.1763,"p":0.0195},{"x":-73.25,"y":10.1763,"p":0.0195},{"x":-72.75,"y":10.1763,"p":0.02},{"x":-72.25,"y":10.1763,"p":0.02},{"x":-71.75,"y":10.1763,"p":0.021},{"x":-71.25,"y":10.1763,"p":0.023},{"x":-70.75,"y":10.1763,"p":0.025},{"x":-70.25,"y":10.1763,"p":0.028},{"x":-69.75,"y":10.1763,"p":0.032},{"x":-69.25,"y":10.1763,"p":0.037},{"x":-68.75,"y":10.1763,"p":0.045},{"x":-68.25,"y":10.1763,"p":0.058},{"x":-67.75,"y":10.1763,"p":0.085},{"x":-67.25,"y":10.1763,"p":0.13},
{"x":-77.75,"y":10.1788,"p":0.026},{"x":-77.25,"y":10.1788,"p":0.025},{"x":-76.75,"y":10.1788,"p":0.024},{"x":-76.25,"y":10.1788,"p":0.023},{"x":-75.75,"y":10.1788,"p":0.022},{"x":-75.25,"y":10.1788,"p":0.022},{"x":-74.75,"y":10.1788,"p":0.022},{"x":-74.25,"y":10.1788,"p":0.022},{"x":-73.75,"y":10.1788,"p":0.022},{"x":-73.25,"y":10.1788,"p":0.022},{"x":-72.75,"y":10.1788,"p":0.023},{"x":-72.25,"y":10.1788,"p":0.024},{"x":-71.75,"y":10.1788,"p":0.025},{"x":-71.25,"y":10.1788,"p":0.027},{"x":-70.75,"y":10.1788,"p":0.03},{"x":-70.25,"y":10.1788,"p":0.034},{"x":-69.75,"y":10.1788,"p":0.04},{"x":-69.25,"y":10.1788,"p":0.048},{"x":-68.75,"y":10.1788,"p":0.06},{"x":-68.25,"y":10.1788,"p":0.085},{"x":-67.75,"y":10.1788,"p":0.13},{"x":-67.25,"y":10.1788,"p":0.16},
{"x":-77.75,"y":10.1813,"p":0.034},{"x":-77.25,"y":10.1813,"p":0.033},{"x":-76.75,"y":10.1813,"p":0.032},{"x":-76.25,"y":10.1813,"p":0.032},{"x":-75.75,"y":10.1813,"p":0.031},{"x":-75.25,"y":10.1813,"p":0.031},{"x":-74.75,"y":10.1813,"p":0.031},{"x":-74.25,"y":10.1813,"p":0.031},{"x":-73.75,"y":10.1813,"p":0.031},{"x":-73.25,"y":10.1813,"p":0.031},{"x":-72.75,"y":10.1813,"p":0.031},{"x":-72.25,"y":10.1813,"p":0.032},{"x":-71.75,"y":10.1813,"p":0.034},{"x":-71.25,"y":10.1813,"p":0.036},{"x":-70.75,"y":10.1813,"p":0.04},{"x":-70.25,"y":10.1813,"p":0.045},{"x":-69.75,"y":10.1813,"p":0.052},{"x":-69.25,"y":10.1813,"p":0.065},{"x":-68.75,"y":10.1813,"p":0.085},{"x":-68.25,"y":10.1813,"p":0.13},{"x":-67.75,"y":10.1813,"p":0.16},{"x":-67.25,"y":10.1813,"p":0.2},
{"x":-77.75,"y":10.1838,"p":0.046},{"x":-77.25,"y":10.1838,"p":0.046},{"x":-76.75,"y":10.1838,"p":0.046},{"x":-76.25,"y":10.1838,"p":0.045},{"x":-75.75,"y":10.1838,"p":0.045},{"x":-75.25,"y":10.1838,"p":0.044},{"x":-74.75,"y":10.1838,"p":0.044},{"x":-74.25,"y":10.1838,"p":0.044},{"x":-73.75,"y":10.1838,"p":0.044},{"x":-73.25,"y":10.1838,"p":0.044},{"x":-72.75,"y":10.1838,"p":0.045},{"x":-72.25,"y":10.1838,"p":0.046},{"x":-71.75,"y":10.1838,"p":0.047},{"x":-71.25,"y":10.1838,"p":0.05},{"x":-70.75,"y":10.1838,"p":0.054},{"x":-70.25,"y":10.1838,"p":0.062},{"x":-69.75,"y":10.1838,"p":0.072},{"x":-69.25,"y":10.1838,"p":0.09},{"x":-68.75,"y":10.1838,"p":0.125},{"x":-68.25,"y":10.1838,"p":0.16},{"x":-67.75,"y":10.1838,"p":0.22},{"x":-67.25,"y":10.1838,"p":0.27},
{"x":-77.75,"y":10.1863,"p":0.072},{"x":-77.25,"y":10.1863,"p":0.072},{"x":-76.75,"y":10.1863,"p":0.072},{"x":-76.25,"y":10.1863,"p":0.072},{"x":-75.75,"y":10.1863,"p":0.072},{"x":-75.25,"y":10.1863,"p":0.072},{"x":-74.75,"y":10.1863,"p":0.073},{"x":-74.25,"y":10.1863,"p":0.074},{"x":-73.75,"y":10.1863,"p":0.075},{"x":-73.25,"y":10.1863,"p":0.076},{"x":-72.75,"y":10.1863,"p":0.078},{"x":-72.25,"y":10.1863,"p":0.08},{"x":-71.75,"y":10.1863,"p":0.085},{"x":-71.25,"y":10.1863,"p":0.09},{"x":-70.75,"y":10.1863,"p":0.1},{"x":-70.25,"y":10.1863,"p":0.12},{"x":-69.75,"y":10.1863,"p":0.14},{"x":-69.25,"y":10.1863,"p":0.16},{"x":-68.75,"y":10.1863,"p":0.19},{"x":-68.25,"y":10.1863,"p":0.26},{"x":-67.75,"y":10.1863,"p":0.283},{"x":-67.25,"y":10.1863,"p":0.283},
{"x":-77.75,"y":10.1888,"p":0.085},{"x":-77.25,"y":10.1888,"p":0.085},{"x":-76.75,"y":10.1888,"p":0.088},{"x":-76.25,"y":10.1888,"p":0.09},{"x":-75.75,"y":10.1888,"p":0.095},{"x":-75.25,"y":10.1888,"p":0.1},{"x":-74.75,"y":10.1888,"p":0.11},{"x":-74.25,"y":10.1888,"p":0.125},{"x":-73.75,"y":10.1888,"p":0.14},{"x":-73.25,"y":10.1888,"p":0.15},{"x":-72.75,"y":10.1888,"p":0.16},{"x":-72.25,"y":10.1888,"p":0.17},{"x":-71.75,"y":10.1888,"p":0.19},{"x":-71.25,"y":10.1888,"p":0.21},{"x":-70.75,"y":10.1888,"p":0.24},{"x":-70.25,"y":10.1888,"p":0.27},{"x":-69.75,"y":10.1888,"p":0.283},{"x":-69.25,"y":10.1888,"p":0.283},{"x":-68.75,"y":10.1888,"p":0.283},{"x":-68.25,"y":10.1888,"p":0.283},{"x":-67.75,"y":10.1888,"p":0.283},{"x":-67.25,"y":10.1888,"p":0.283}]},
"concat":[
{"width":252,"height":252,"encoding":{"x":{"field":"t","type":"quantitative","scale":{"domain":[0,1260]},"axis":null},"y":{"field":"a","type":"quantitative","scale":{"domain":[0,252]},"axis":null}},
"layer":[
{"data":{"values":[{"t":40,"a":185.3,"b":185.3},{"t":55,"a":187.3,"b":185.3},{"t":70,"a":196.7,"b":185.3},{"t":85,"a":217.3,"b":185.3},{"t":92,"a":227.3,"b":185.3},{"t":100,"a":231,"b":185.3},{"t":108,"a":227.3,"b":185.3},{"t":115,"a":217.3,"b":185.3},{"t":130,"a":196.7,"b":185.3},{"t":145,"a":187.3,"b":185.3},{"t":160,"a":185.3,"b":185.3}]},"mark":{"type":"area","color":"#f58a0b","interpolate":"monotone"},"encoding":{"y2":{"field":"b"}}},
{"data":{"values":[{"t":175,"a":185.5,"b":185.3},{"t":215,"a":187,"b":185.3},{"t":245,"a":191,"b":185.3},{"t":275,"a":199,"b":185.3},{"t":300,"a":208,"b":185.3},{"t":325,"a":217,"b":185.3},{"t":353.5,"a":223.3,"b":185.3},{"t":711.5,"a":223.3,"b":185.3},{"t":740,"a":217,"b":185.3},{"t":765,"a":208,"b":185.3},{"t":790,"a":199,"b":185.3},{"t":820,"a":191,"b":185.3},{"t":850,"a":187,"b":185.3},{"t":890,"a":185.5,"b":185.3}]},"mark":{"type":"area","color":"#fb0000"},"encoding":{"y2":{"field":"b"}}},
{"data":{"values":[{"t":273.5,"a":97.8,"b":97.3},{"t":308.5,"a":98.7,"b":97.3},{"t":333.5,"a":100.1,"b":97.3},{"t":358.5,"a":102.5,"b":97.3},{"t":383.5,"a":106.1,"b":97.3},{"t":408.5,"a":111,"b":97.3},{"t":433.5,"a":116.9,"b":97.3},{"t":458.5,"a":123.3,"b":97.3},{"t":483.5,"a":129.1,"b":97.3},{"t":508.5,"a":133.2,"b":97.3},{"t":533.5,"a":134.7,"b":97.3},{"t":558.5,"a":133.2,"b":97.3},{"t":583.5,"a":129.1,"b":97.3},{"t":608.5,"a":123.3,"b":97.3},{"t":633.5,"a":116.9,"b":97.3},{"t":658.5,"a":111,"b":97.3},{"t":683.5,"a":106.1,"b":97.3},{"t":708.5,"a":102.5,"b":97.3},{"t":733.5,"a":100.1,"b":97.3},{"t":758.5,"a":98.7,"b":97.3},{"t":793.5,"a":97.8,"b":97.3}]},"mark":{"type":"area","color":"#0a4ff0","interpolate":"monotone"},"encoding":{"y2":{"field":"b"}}},
{"data":{"values":[{"t":808.5,"a":155.3,"b":97.3},{"t":920,"a":155.3,"b":97.3}]},"mark":{"type":"area","color":"#18aef0"},"encoding":{"y2":{"field":"b"}}},
{"data":{"values":[{"t":881.5,"a":56.7,"b":-1.3},{"t":1195,"a":56.7,"b":-1.3}]},"mark":{"type":"area","color":"#7a10c8"},"encoding":{"y2":{"field":"b"}}},
{"data":{"values":[{"t":-205,"a":185.3,"t2":1270,"a2":185.3}]},"mark":{"type":"rule","color":"#f00000","strokeWidth":2},"encoding":{"x2":{"field":"t2"},"y2":{"field":"a2"}}},
{"data":{"values":[{"t":-205,"a":97.3,"t2":1280,"a2":97.3}]},"mark":{"type":"rule","color":"#0a4ff0","strokeWidth":2},"encoding":{"x2":{"field":"t2"},"y2":{"field":"a2"}}},
{"data":{"values":[{"t":-205,"a":-1.3,"t2":1270,"a2":-1.3}]},"mark":{"type":"rule","color":"#8a20c8","strokeWidth":2},"encoding":{"x2":{"field":"t2"},"y2":{"field":"a2"}}},
{"data":{"values":[{"t":533.5,"a":184,"t2":533.5,"a2":1},{"t":810,"a":97,"t2":810,"a2":1}]},"mark":{"type":"rule","color":"#f0805a","strokeWidth":1.2,"strokeDash":[5,3]},"encoding":{"x2":{"field":"t2"},"y2":{"field":"a2"}}},
{"data":{"values":[{"t":353.5,"a":234,"t2":353.5,"a2":171},{"t":711.5,"a":234,"t2":711.5,"a2":185},{"t":286.5,"a":199,"t2":286.5,"a2":171},{"t":711.5,"a":222.3,"t2":936.5,"a2":222.3},{"t":405,"a":112.3,"t2":405,"a2":81.3},{"t":655,"a":112.3,"t2":655,"a2":81.3}]},"mark":{"type":"rule","color":"#000","strokeWidth":1.8,"strokeDash":[3.5,2.5]},"encoding":{"x2":{"field":"t2"},"y2":{"field":"a2"}}},
{"data":{"values":[{"t":366.5,"a":228.7,"t2":700,"a2":228.7},{"t":288.5,"a":173,"t2":355,"a2":173},{"t":903.5,"a":220.7,"t2":903.5,"a2":186.7},{"t":811.5,"a":158.3,"t2":916.5,"a2":158.3},{"t":425,"a":84,"t2":638.5,"a2":84},{"t":878.5,"a":67.3,"t2":1200,"a2":67.3},{"t":1233.5,"a":54,"t2":1233.5,"a2":2.3},{"t":545,"a":7.3,"t2":805,"a2":7.3},{"t":816.5,"a":7.3,"t2":878.5,"a2":7.3}]},"mark":{"type":"rule","color":"#000","strokeWidth":1.3},"encoding":{"x2":{"field":"t2"},"y2":{"field":"a2"}}},
{"data":{"values":[{"t":366.5,"a":228.7,"s":"triangle-left"},{"t":700,"a":228.7,"s":"triangle-right"},{"t":288.5,"a":173,"s":"triangle-left"},{"t":355,"a":173,"s":"triangle-right"},{"t":903.5,"a":220.7,"s":"triangle-up"},{"t":903.5,"a":186.7,"s":"triangle-down"},{"t":811.5,"a":158.3,"s":"triangle-left"},{"t":916.5,"a":158.3,"s":"triangle-right"},{"t":425,"a":84,"s":"triangle-left"},{"t":638.5,"a":84,"s":"triangle-right"},{"t":878.5,"a":67.3,"s":"triangle-left"},{"t":1200,"a":67.3,"s":"triangle-right"},{"t":1233.5,"a":54,"s":"triangle-up"},{"t":1233.5,"a":2.3,"s":"triangle-down"},{"t":545,"a":7.3,"s":"triangle-left"},{"t":805,"a":7.3,"s":"triangle-right"},{"t":816.5,"a":7.3,"s":"triangle-left"},{"t":878.5,"a":7.3,"s":"triangle-right"}]},"mark":{"type":"point","filled":true,"color":"#000","opacity":1,"size":22},"encoding":{"shape":{"field":"s","type":"nominal","scale":null}}},
{"data":{"values":[{"t":-290,"a":248,"s":"a"}]},"mark":{"type":"text","fontSize":19,"fontWeight":"bold","color":"#000"},"encoding":{"text":{"field":"s"}}},
{"data":{"values":[{"t":-25,"a":234,"s":"π pulse"},{"t":-281.5,"a":191.3,"s":"Drive"},{"t":-281.5,"a":105.7,"s":"Signal"},{"t":-281.5,"a":6.3,"s":"Pump"},{"t":438.5,"a":240,"s":"=380 ns"},{"t":571.5,"a":146.7,"s":"~43"},{"t":480,"a":62.3,"s":"=250 ns"},{"t":941.5,"a":127.3,"s":"ω"}]},"mark":{"type":"text"},"encoding":{"text":{"field":"s"}}},
{"data":{"values":[{"t":365,"a":240,"s":"t"},{"t":928.5,"a":199,"s":"P"},{"t":296.5,"a":156.7,"s":"t"},{"t":463.5,"a":146.7,"s":"n̄"},{"t":825,"a":165.7,"s":"t"},{"t":945,"a":107.3,"s":"n̄"},{"t":358.5,"a":62.3,"s":"t"},{"t":953.5,"a":78,"s":"t"},{"t":575,"a":11.7,"s":"t"},{"t":758.5,"a":-16.7,"s":"t"}]},"mark":{"type":"text","fontStyle":"italic"},"encoding":{"text":{"field":"s"}}},
{"data":{"values":[{"t":383.5,"a":237.3,"s":"dr"},{"t":978.5,"a":195,"s":"dr"},{"t":316.5,"a":154,"s":"rise"},{"t":503.5,"a":144,"s":"rst"},{"t":845,"a":162.3,"s":"rd"},{"t":986.5,"a":106.7,"s":"rd"},{"t":998,"a":126.3,"s":"rd"},{"t":380,"a":58.3,"s":"rst"},{"t":978.5,"a":74.7,"s":"pump"},{"t":595,"a":10,"s":"delay1"},{"t":778.5,"a":-21,"s":"delay2"}]},"mark":{"type":"text","fontSize":10.5},"encoding":{"text":{"field":"s"}}},
{"data":{"values":[{"t":480,"a":195.7,"s":"ω"},{"t":480,"a":104.7,"s":"ω"},{"t":928.5,"a":19.7,"s":"ω"}]},"mark":{"type":"text","color":"#fff"},"encoding":{"text":{"field":"s"}}},
{"data":{"values":[{"t":536.5,"a":193.3,"s":"dr"},{"t":536.5,"a":101.3,"s":"rst"},{"t":986.5,"a":17.3,"s":"pump"}]},"mark":{"type":"text","color":"#fff","fontSize":11},"encoding":{"text":{"field":"s"}}},
{"data":{"values":[{"t":1250,"a":49,"s":"P"}]},"mark":{"type":"text","fontStyle":"italic","angle":90},"encoding":{"text":{"field":"s"}}},
{"data":{"values":[{"t":1260,"a":39,"s":"pump"}]},"mark":{"type":"text","fontSize":10.5,"angle":90},"encoding":{"text":{"field":"s"}}},
{"data":{"values":[{"t":1033.5,"a":67.3,"s":"≀≀"},{"t":1033.5,"a":55,"s":"≀≀"},{"t":1033.5,"a":1,"s":"≀≀"}]},"mark":{"type":"text","font":"DejaVu Sans","fontSize":9,"align":"center","baseline":"middle","color":"#000"},"encoding":{"text":{"field":"s"}}}
]},
{"width":257,"height":252,"resolve":{"axis":{"x":"independent","y":"independent"}},"encoding":{"x":{"field":"x","type":"quantitative","scale":{"domain":[-78,-67]},"axis":null},"y":{"field":"y","type":"quantitative","scale":{"domain":[10.14,10.19],"zero":false},"axis":null}},
"layer":[
{"data":{"name":"b"},"mark":{"type":"rect","width":12,"height":13,"clip":true},"encoding":{"x":{"field":"x","type":"quantitative","scale":{"domain":[-78,-67]},"axis":{"orient":"bottom","values":[-78,-77,-76,-75,-74,-73,-72,-71,-70,-69,-68,-67],"tickSize":{"condition":{"test":"datum.value==-75||datum.value==-70","value":5},"value":3},"labelExpr":"datum.value==-75||datum.value==-70?datum.label:''","labelPadding":3}},"y":{"field":"y","type":"quantitative","scale":{"domain":[10.14,10.19],"zero":false},"axis":{"orient":"left","values":[10.14,10.145,10.15,10.155,10.16,10.165,10.17,10.175,10.18,10.185,10.19],"tickSize":{"condition":{"test":"datum.value==10.14||datum.value==10.16||datum.value==10.18","value":6},"value":3},"labelExpr":"datum.value==10.14||datum.value==10.16||datum.value==10.18?format(datum.value,'.2f'):''","labelPadding":4}},"color":{"field":"p","type":"quantitative","legend":null,"scale":{"domain":[0.017,0.0195,0.0255,0.03,0.036,0.042,0.055,0.075,0.095,0.125,0.17,0.21,0.25,0.283],"range":["#4e0068","#6a10c8","#1410f0","#0070ff","#00e0f0","#00ff70","#90ff00","#ffff00","#ffa000","#ff1000","#ee0000","#a00000","#620000","#560000"]}}}},
{"data":{"values":[{"x":-75,"y":10.15}]},"mark":{"type":"point","opacity":0},"encoding":{"x":{"field":"x","type":"quantitative","scale":{"domain":[-78,-67]},"axis":{"orient":"top","values":[-78,-77,-76,-75,-74,-73,-72,-71,-70,-69,-68,-67],"labels":false,"tickSize":3}},"y":{"field":"y","type":"quantitative","scale":{"domain":[10.14,10.19],"zero":false},"axis":{"orient":"right","values":[10.14,10.16,10.18],"labels":false,"tickSize":3}}}},
{"data":{"name":"barb"},"mark":{"type":"rect","width":3.6,"height":10},"encoding":{"color":{"field":"p","type":"quantitative","legend":null,"scale":{"domain":[0.017,0.0195,0.0255,0.03,0.036,0.042,0.055,0.075,0.095,0.125,0.17,0.21,0.25,0.283],"range":["#4e0068","#6a10c8","#1410f0","#0070ff","#00e0f0","#00ff70","#90ff00","#ffff00","#ffa000","#ff1000","#ee0000","#a00000","#620000","#560000"]}}}},
{"data":{"values":[{"x":-77.4,"y":10.1513,"x2":-73.55,"y2":10.1493}]},"mark":{"type":"rect","fillOpacity":0,"stroke":"#fff","strokeWidth":1.5},"encoding":{"x2":{"field":"x2"},"y2":{"field":"y2"}}},
{"data":{"values":[{"x":-77.19,"y":10.1493,"x2":-77.19,"y2":10.1483},{"x":-76.63,"y":10.1493,"x2":-76.63,"y2":10.1487},{"x":-76.21,"y":10.1493,"x2":-76.21,"y2":10.1487},{"x":-75.9,"y":10.1493,"x2":-75.9,"y2":10.1487},{"x":-75.67,"y":10.1493,"x2":-75.67,"y2":10.1487},{"x":-74.94,"y":10.1493,"x2":-74.94,"y2":10.1483},{"x":-74.36,"y":10.1493,"x2":-74.36,"y2":10.1487}]},"mark":{"type":"rule","color":"#fff","strokeWidth":1.2},"encoding":{"x2":{"field":"x2"},"y2":{"field":"y2"}}},
{"data":{"values":[{"x":-77.76,"y":10.1454,"s":"0.02"},{"x":-75.55,"y":10.1454,"s":"0.10"},{"x":-75.8,"y":10.142,"s":"(|e⟩)"}]},"mark":{"type":"text","color":"#fff","fontSize":13.5},"encoding":{"text":{"field":"s"}}},
{"data":{"values":[{"x":-76.3,"y":10.142,"s":"P"}]},"mark":{"type":"text","color":"#fff","fontSize":13.5,"fontStyle":"italic"},"encoding":{"text":{"field":"s"}}},
{"data":{"values":[{"x":-81.08,"y":10.1894,"s":"b"}]},"mark":{"type":"text","fontSize":19,"fontWeight":"bold","color":"#000"},"encoding":{"text":{"field":"s"}}},
{"data":{"values":[{"x":-80.58,"y":10.155,"s":"ω"},{"x":-80.58,"y":10.1608,"s":"/ 2π (GHz)"}]},"mark":{"type":"text","angle":270},"encoding":{"text":{"field":"s"}}},
{"data":{"values":[{"x":-80.44,"y":10.1572,"s":"rst"}]},"mark":{"type":"text","angle":270,"fontSize":10.5},"encoding":{"text":{"field":"s"}}}
]},
{"width":252,"height":252,"resolve":{"axis":{"x":"independent","y":"independent"}},"encoding":{"x":{"field":"x","type":"quantitative","scale":{"domain":[-78,-67]},"axis":null},"y":{"field":"y","type":"quantitative","scale":{"domain":[0,0.15]},"axis":null}},
"layer":[
{"data":{"values":[{"x":-78,"y":0.069},{"x":-77.49,"y":0.0556},{"x":-76.98,"y":0.0452},{"x":-76.47,"y":0.0353},{"x":-75.89,"y":0.0268},{"x":-75.31,"y":0.0198},{"x":-74.73,"y":0.0145},{"x":-74.15,"y":0.0109},{"x":-73.57,"y":0.0085},{"x":-73.01,"y":0.0069},{"x":-72.4,"y":0.0067},{"x":-71.82,"y":0.0075},{"x":-71.24,"y":0.0101},{"x":-70.66,"y":0.0135},{"x":-70.08,"y":0.0181},{"x":-69.5,"y":0.0238},{"x":-68.92,"y":0.0323},{"x":-68.33,"y":0.0413},{"x":-67.75,"y":0.0542},{"x":-67.32,"y":0.071},{"x":-67,"y":0.0859}]},"mark":{"type":"line","color":"#e8202a","strokeWidth":2.2,"strokeDash":[7,5],"interpolate":"monotone"},"encoding":{"x":{"field":"x","type":"quantitative","scale":{"domain":[-78,-67]},"axis":{"orient":"bottom","values":[-78,-77,-76,-75,-74,-73,-72,-71,-70,-69,-68,-67],"tickSize":{"condition":{"test":"datum.value==-75||datum.value==-70","value":-6},"value":-3},"labelExpr":"datum.value==-75||datum.value==-70?datum.label:''","labelPadding":12}},"y":{"field":"y","type":"quantitative","scale":{"domain":[0,0.15]},"axis":{"orient":"left","values":[0,0.01,0.02,0.03,0.04,0.05,0.06,0.07,0.08,0.09,0.1,0.11,0.12,0.13,0.14,0.15],"tickSize":{"condition":{"test":"datum.value==0||datum.value==0.05||datum.value==0.1||datum.value==0.15","value":-6},"value":-3},"labelExpr":"datum.value==0?'0':(datum.value==0.05||datum.value==0.1||datum.value==0.15)?format(datum.value,'.2f'):''","labelPadding":8}}}},
{"data":{"values":[{"x":-75,"y":0.05}]},"mark":{"type":"point","opacity":0},"encoding":{"x":{"field":"x","type":"quantitative","scale":{"domain":[-78,-67]},"axis":{"orient":"top","values":[-75,-70],"labels":false,"tickSize":-5}},"y":{"field":"y","type":"quantitative","scale":{"domain":[0,0.15]},"axis":{"orient":"right","values":[0,0.05,0.1,0.15],"labels":false,"tickSize":-5}}}},
{"data":{"values":[{"x":-77.59,"y":0.0808},{"x":-77.2,"y":0.074},{"x":-76.81,"y":0.0599},{"x":-76.5,"y":0.054},{"x":-76.15,"y":0.0458},{"x":-75.79,"y":0.0413},{"x":-75.46,"y":0.0397},{"x":-75.15,"y":0.0321},{"x":-74.87,"y":0.0302},{"x":-74.56,"y":0.0264},{"x":-74.28,"y":0.0256},{"x":-74,"y":0.0248},{"x":-73.73,"y":0.0194},{"x":-73.48,"y":0.0202},{"x":-73.25,"y":0.0159},{"x":-72.99,"y":0.0173},{"x":-72.75,"y":0.0181},{"x":-72.51,"y":0.0167},{"x":-72.27,"y":0.0181},{"x":-72.07,"y":0.0155},{"x":-71.87,"y":0.0159},{"x":-71.65,"y":0.0153},{"x":-71.43,"y":0.0179},{"x":-71.24,"y":0.0185},{"x":-71.07,"y":0.0161},{"x":-70.86,"y":0.0175},{"x":-70.66,"y":0.0194},{"x":-70.49,"y":0.0198},{"x":-70.33,"y":0.0214},{"x":-70.12,"y":0.0242},{"x":-69.9,"y":0.0236},{"x":-69.67,"y":0.026},{"x":-69.5,"y":0.0266},{"x":-69.32,"y":0.0306},{"x":-69.13,"y":0.03},{"x":-69.03,"y":0.031},{"x":-68.89,"y":0.0357},{"x":-68.73,"y":0.0379},{"x":-68.6,"y":0.0391},{"x":-68.45,"y":0.0371},{"x":-68.33,"y":0.0446},{"x":-68.19,"y":0.0466},{"x":-68.04,"y":0.048},{"x":-67.9,"y":0.0552},{"x":-67.68,"y":0.0554},{"x":-67.52,"y":0.0601},{"x":-67.35,"y":0.0627},{"x":-67.24,"y":0.0627},{"x":-70.18,"y":0.1373}]},"mark":{"type":"point","filled":true,"opacity":1,"color":"#0a14d8","size":45}},
{"data":{"values":[{"x":-70.95,"y":0.1246,"x2":-69.5,"y2":0.1246}]},"mark":{"type":"rule","color":"#e8202a","strokeWidth":2.2,"strokeDash":[7,5]},"encoding":{"x2":{"field":"x2"},"y2":{"field":"y2"}}},
{"data":{"values":[{"x":-69.28,"y":0.1351,"s":"Exp."},{"x":-69.28,"y":0.1222,"s":"Calc."}]},"mark":{"type":"text","fontSize":13},"encoding":{"text":{"field":"s"}}},
{"data":{"values":[{"x":-80.53,"y":0.1482,"s":"d"}]},"mark":{"type":"text","fontSize":19,"fontWeight":"bold","color":"#000"},"encoding":{"text":{"field":"s"}}},
{"data":{"values":[{"x":-72.88,"y":-0.0246,"s":"(dBm)"}]},"mark":{"type":"text"},"encoding":{"text":{"field":"s"}}},
{"data":{"values":[{"x":-73.93,"y":-0.0246,"s":"P"}]},"mark":{"type":"text","fontStyle":"italic"},"encoding":{"text":{"field":"s"}}},
{"data":{"values":[{"x":-73.52,"y":-0.0268,"s":"dr"}]},"mark":{"type":"text","fontSize":10.5},"encoding":{"text":{"field":"s"}}},
{"data":{"values":[{"x":-80.18,"y":0.0633,"s":"P"}]},"mark":{"type":"text","fontStyle":"italic","angle":270},"encoding":{"text":{"field":"s"}}},
{"data":{"values":[{"x":-80.18,"y":0.0708,"s":"(|e⟩)"}]},"mark":{"type":"text","angle":270},"encoding":{"text":{"field":"s"}}}
]},
{"width":257,"height":252,"resolve":{"axis":{"x":"independent","y":"independent"}},"encoding":{"x":{"field":"x","type":"quantitative","scale":{"domain":[-78,-67]},"axis":null},"y":{"field":"y","type":"quantitative","scale":{"domain":[10.14,10.19],"zero":false},"axis":null}},
"layer":[
{"data":{"name":"c"},"mark":{"type":"rect","width":12,"height":13,"clip":true},"encoding":{"x":{"field":"x","type":"quantitative","scale":{"domain":[-78,-67]},"axis":{"orient":"bottom","values":[-78,-77,-76,-75,-74,-73,-72,-71,-70,-69,-68,-67],"tickSize":{"condition":{"test":"datum.value==-75||datum.value==-70","value":5},"value":3},"labelExpr":"datum.value==-75||datum.value==-70?datum.label:''","labelPadding":3}},"y":{"field":"y","type":"quantitative","scale":{"domain":[10.14,10.19],"zero":false},"axis":{"orient":"left","values":[10.14,10.145,10.15,10.155,10.16,10.165,10.17,10.175,10.18,10.185,10.19],"tickSize":{"condition":{"test":"datum.value==10.14||datum.value==10.16||datum.value==10.18","value":6},"value":3},"labelExpr":"datum.value==10.14||datum.value==10.16||datum.value==10.18?format(datum.value,'.2f'):''","labelPadding":4}},"color":{"field":"p","type":"quantitative","legend":null,"scale":{"domain":[0.017,0.0195,0.0255,0.03,0.036,0.042,0.055,0.075,0.095,0.125,0.17,0.21,0.25,0.283],"range":["#4e0068","#6a10c8","#1410f0","#0070ff","#00e0f0","#00ff70","#90ff00","#ffff00","#ffa000","#ff1000","#ee0000","#a00000","#620000","#560000"]}}}},
{"data":{"values":[{"x":-75,"y":10.15}]},"mark":{"type":"point","opacity":0},"encoding":{"x":{"field":"x","type":"quantitative","scale":{"domain":[-78,-67]},"axis":{"orient":"top","values":[-78,-77,-76,-75,-74,-73,-72,-71,-70,-69,-68,-67],"labels":false,"tickSize":3}},"y":{"field":"y","type":"quantitative","scale":{"domain":[10.14,10.19],"zero":false},"axis":{"orient":"right","values":[10.14,10.16,10.18],"labels":false,"tickSize":3}}}},
{"data":{"name":"barc"},"mark":{"type":"rect","width":3.6,"height":10},"encoding":{"color":{"field":"p","type":"quantitative","legend":null,"scale":{"domain":[0.017,0.0195,0.0255,0.03,0.036,0.042,0.055,0.075,0.095,0.125,0.17,0.21,0.25,0.283],"range":["#4e0068","#6a10c8","#1410f0","#0070ff","#00e0f0","#00ff70","#90ff00","#ffff00","#ffa000","#ff1000","#ee0000","#a00000","#620000","#560000"]}}}},
{"data":{"values":[{"x":-77.4,"y":10.1509,"x2":-73.55,"y2":10.1489}]},"mark":{"type":"rect","fillOpacity":0,"stroke":"#fff","strokeWidth":1.5},"encoding":{"x2":{"field":"x2"},"y2":{"field":"y2"}}},
{"data":{"values":[{"x":-77.19,"y":10.1489,"x2":-77.19,"y2":10.1479},{"x":-76.63,"y":10.1489,"x2":-76.63,"y2":10.1483},{"x":-76.21,"y":10.1489,"x2":-76.21,"y2":10.1483},{"x":-75.9,"y":10.1489,"x2":-75.9,"y2":10.1483},{"x":-75.67,"y":10.1489,"x2":-75.67,"y2":10.1483},{"x":-74.94,"y":10.1489,"x2":-74.94,"y2":10.1479},{"x":-74.36,"y":10.1489,"x2":-74.36,"y2":10.1483}]},"mark":{"type":"rule","color":"#fff","strokeWidth":1.2},"encoding":{"x2":{"field":"x2"},"y2":{"field":"y2"}}},
{"data":{"values":[{"x":-77.8,"y":10.1451,"s":"0.02"},{"x":-75.62,"y":10.1451,"s":"0.10"},{"x":-75.9,"y":10.1419,"s":"(|e⟩)"}]},"mark":{"type":"text","color":"#fff","fontSize":13.5},"encoding":{"text":{"field":"s"}}},
{"data":{"values":[{"x":-76.37,"y":10.1419,"s":"P"}]},"mark":{"type":"text","color":"#fff","fontSize":13.5,"fontStyle":"italic"},"encoding":{"text":{"field":"s"}}},
{"data":{"values":[{"x":-81.08,"y":10.1894,"s":"c"}]},"mark":{"type":"text","fontSize":19,"fontWeight":"bold","color":"#000"},"encoding":{"text":{"field":"s"}}},
{"data":{"values":[{"x":-80.58,"y":10.1551,"s":"ω"},{"x":-80.58,"y":10.1608,"s":"/ 2π (GHz)"}]},"mark":{"type":"text","angle":270},"encoding":{"text":{"field":"s"}}},
{"data":{"values":[{"x":-80.44,"y":10.1574,"s":"rst"}]},"mark":{"type":"text","angle":270,"fontSize":10.5},"encoding":{"text":{"field":"s"}}},
{"data":{"values":[{"x":-72.95,"y":10.132,"s":"(dBm)"}]},"mark":{"type":"text"},"encoding":{"text":{"field":"s"}}},
{"data":{"values":[{"x":-74.02,"y":10.132,"s":"P"}]},"mark":{"type":"text","fontStyle":"italic"},"encoding":{"text":{"field":"s"}}},
{"data":{"values":[{"x":-73.59,"y":10.1312,"s":"dr"}]},"mark":{"type":"text","fontSize":10.5},"encoding":{"text":{"field":"s"}}}
]}
]}
